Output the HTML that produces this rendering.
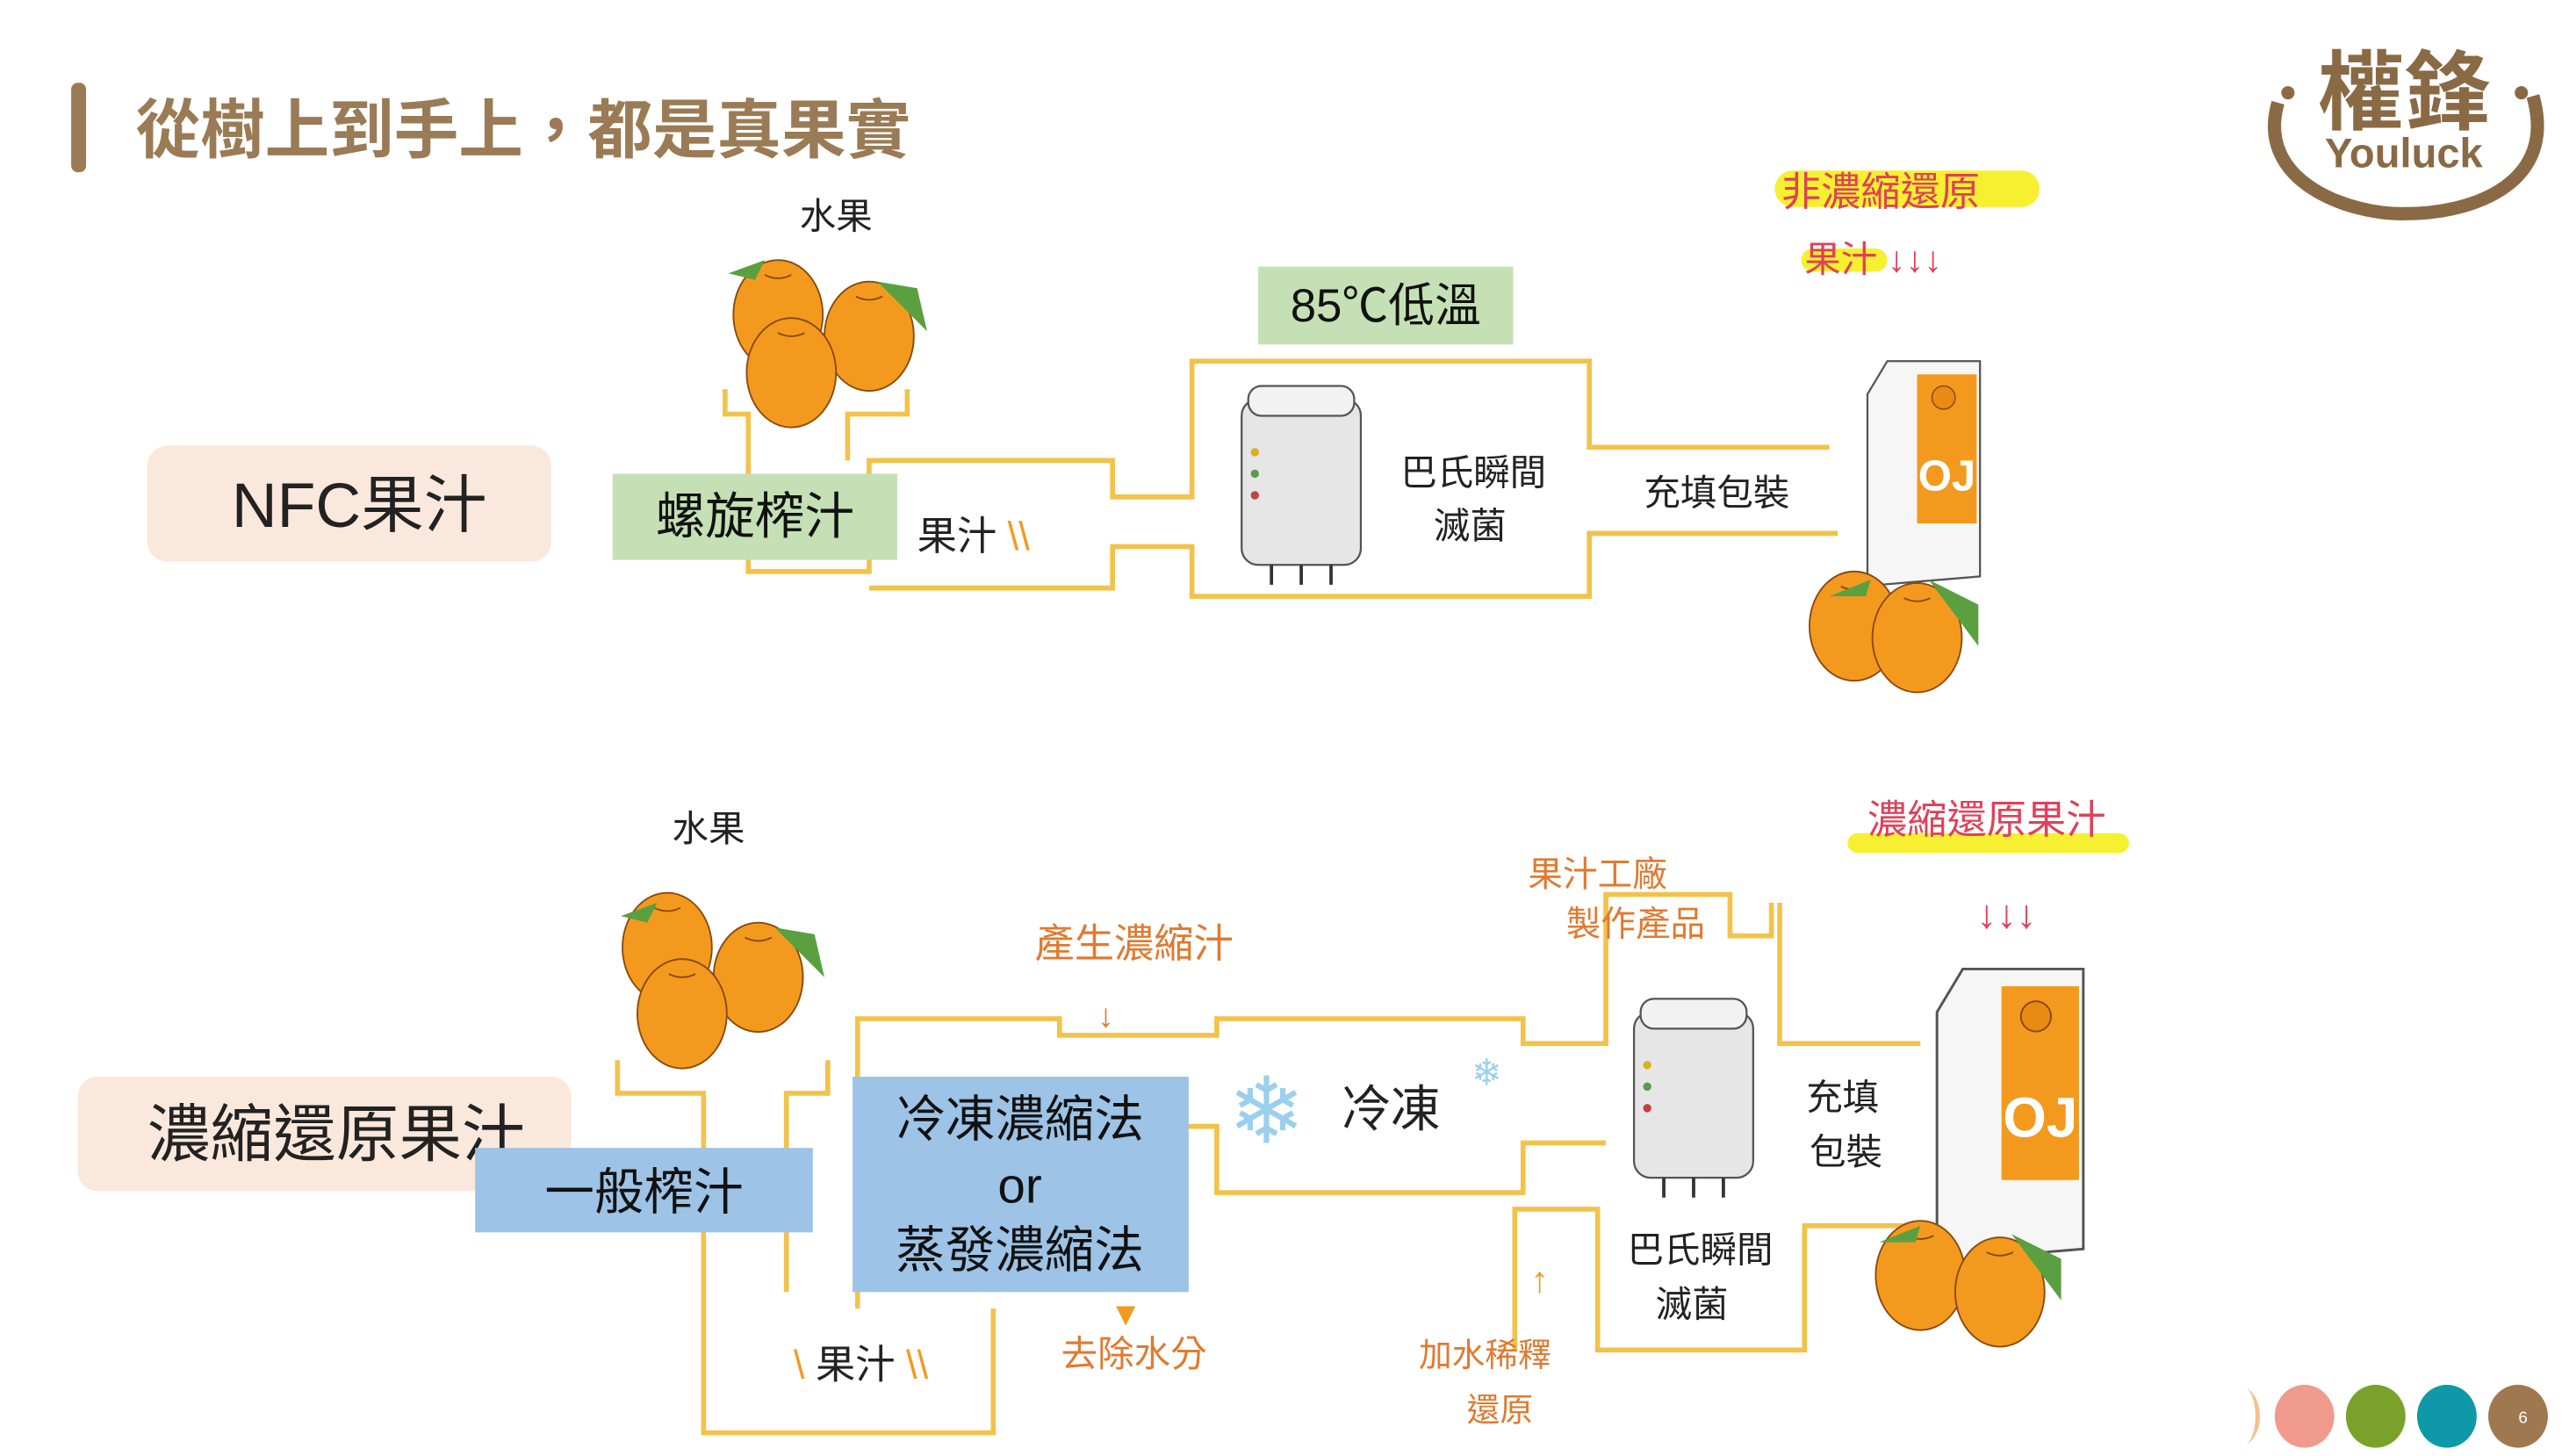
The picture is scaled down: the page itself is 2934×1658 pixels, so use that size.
<!DOCTYPE html>
<html><head><meta charset="utf-8"><style>
html,body{margin:0;padding:0;background:#fff;width:2934px;height:1658px;overflow:hidden}
svg{display:block}
text{font-family:"Liberation Sans","Noto Sans CJK TC",sans-serif}
</style></head><body>
<svg width="2934" height="1658" viewBox="0 0 1556 879" preserveAspectRatio="none" xmlns="http://www.w3.org/2000/svg">
<defs>
<g id="orange"><ellipse rx="27" ry="33" fill="#f39a1e" stroke="#8a4a10" stroke-width="1"/><path d="M-8,-24 q8,4 16,0" stroke="#8a4a10" fill="none"/></g>
<g id="tank"><rect x="0" y="8" width="72" height="100" rx="10" fill="#e6e6e6" stroke="#555" stroke-width="1.2"/><rect x="4" y="0" width="64" height="18" rx="8" fill="#f2f2f2" stroke="#555" stroke-width="1.2"/><circle cx="8" cy="40" r="2.5" fill="#d9b020"/><circle cx="8" cy="53" r="2.5" fill="#5a9a50"/><circle cx="8" cy="66" r="2.5" fill="#c04040"/><path d="M18,108v12M36,108v12M54,108v12" stroke="#333" stroke-width="2"/></g>
<g id="carton"><path d="M0,20 L12,0 L68,0 L68,130 L8,135 L0,130Z" fill="#f6f6f6" stroke="#555" stroke-width="1.2"/><rect x="30" y="8" width="36" height="90" fill="#f39a1e"/><circle cx="46" cy="22" r="7" fill="#e98a12" stroke="#8a4a10" stroke-width="0.8"/><text x="48" y="78" font-size="26" font-weight="bold" fill="#fff" text-anchor="middle">OJ</text></g>
</defs>
<!-- title -->
<rect x="43" y="50" width="9" height="54" rx="4" fill="#9a7b55"/>
<text x="82" y="92" font-size="39" fill="#9a7b55" font-weight="bold">從樹上到手上，都是真果實</text>
<!-- logo -->
<text x="1452" y="74" font-size="52" font-weight="bold" fill="#8a6a45" text-anchor="middle">權鋒</text>
<text x="1452" y="101" font-size="25" font-weight="bold" fill="#8a6a45" text-anchor="middle">Youluck</text>
<path d="M1376,62 C1362,110 1420,130 1453,129 C1495,129 1545,110 1530,58" fill="none" stroke="#8a6a45" stroke-width="8"/>
<circle cx="1382" cy="56" r="4" fill="#8a6a45"/><circle cx="1523" cy="56" r="4" fill="#8a6a45"/>

<!-- TOP pipes -->
<g fill="none" stroke="#f2c24a" stroke-width="3">
<path d="M438,235 V250 H452 V345 H525 V278 H672 V300 H720 V218 H960 V270 H1105"/>
<path d="M548,235 V250 H512 V278"/>
<path d="M525,355 H672 V330 H720 V360 H960 V322 H1110"/>
</g>
<text x="505" y="138" font-size="22" text-anchor="middle" fill="#222">水果</text>
<use href="#orange" x="470" y="190"/><use href="#orange" x="525" y="203"/><use href="#orange" x="478" y="225"/>
<path d="M440,165 l22,-8 l-6,12z M530,170 l30,30 l-6,-26z" fill="#5aa040"/>
<text x="588" y="332" font-size="24" text-anchor="middle" fill="#222">果汁 <tspan fill="#f39a1e">\\</tspan></text>
<use href="#tank" x="750" y="233"/>
<text x="890" y="293" font-size="22" text-anchor="middle" fill="#222">巴氏瞬間</text>
<text x="888" y="325" font-size="22" text-anchor="middle" fill="#222">滅菌</text>
<text x="1037" y="305" font-size="22" text-anchor="middle" fill="#222">充填包裝</text>
<use href="#carton" x="1128" y="218"/>
<use href="#orange" x="1120" y="378"/><use href="#orange" x="1158" y="385"/>
<path d="M1130,350 l-25,10 l22,0z M1165,350 l30,40 l0,-25z" fill="#5aa040"/>
<rect x="1072" y="103" width="160" height="22" rx="11" fill="#f7f030"/>
<rect x="1088" y="150" width="52" height="14" rx="7" fill="#f7f030"/>
<text x="1076" y="124" font-size="24" fill="#e0405a">非濃縮還原</text>
<text x="1090" y="164" font-size="22" fill="#e0405a">果汁 ↓↓↓</text>

<rect x="89" y="269" width="244" height="70" rx="12" fill="#fbe8dc"/>
<text x="217" y="318" font-size="38" text-anchor="middle" fill="#222">NFC果汁</text>
<rect x="370" y="286" width="172" height="52" fill="#c5e0b4"/>
<text x="456" y="322" font-size="30" text-anchor="middle" fill="#111">螺旋榨汁</text>
<rect x="760" y="161" width="154" height="47" fill="#c5e0b4"/>
<text x="837" y="194" font-size="28" text-anchor="middle" fill="#111">85℃低溫</text>

<!-- BOTTOM pipes -->
<g fill="none" stroke="#f2c24a" stroke-width="3">
<path d="M373,640 V660 H425 V865 H600 V790"/>
<path d="M500,640 V660 H475 V780"/>
<path d="M518,790 V615 H640 V625 H735 V615 H920 V630 H970 V540 H1045 V565 H1070 V545"/>
<path d="M1075,545 V630 H1160"/>
<path d="M640,680 H735 V720 H920 V690 H970"/>
<path d="M915,815 V730 H965 V815 H1090 V740 H1160"/>
</g>
<text x="428" y="508" font-size="22" text-anchor="middle" fill="#222">水果</text>
<use href="#orange" x="403" y="572"/><use href="#orange" x="458" y="590"/><use href="#orange" x="412" y="612"/>
<path d="M375,553 l22,-8 l-6,12z M468,560 l30,30 l-6,-26z" fill="#5aa040"/>
<text x="520" y="832" font-size="24" text-anchor="middle" fill="#222"><tspan fill="#f39a1e">\ </tspan>果汁 <tspan fill="#f39a1e">\\</tspan></text>
<text x="685" y="578" font-size="24" text-anchor="middle" fill="#e07a30">產生濃縮汁</text>
<text x="668" y="620" font-size="20" text-anchor="middle" fill="#e07a30">↓</text>
<text x="680" y="800" font-size="20" text-anchor="middle" fill="#f39a1e">▼</text>
<text x="685" y="825" font-size="22" text-anchor="middle" fill="#e07a30">去除水分</text>
<text x="765" y="690" font-size="56" text-anchor="middle" fill="#9ad0ee">❄</text>
<text x="840" y="680" font-size="30" text-anchor="middle" fill="#222">冷凍</text>
<text x="898" y="655" font-size="22" text-anchor="middle" fill="#9ad0ee">❄</text>
<text x="965" y="535" font-size="21" text-anchor="middle" fill="#e07a30">果汁工廠</text>
<text x="988" y="565" font-size="21" text-anchor="middle" fill="#e07a30">製作產品</text>
<use href="#tank" x="987" y="603"/>
<text x="1113" y="670" font-size="22" text-anchor="middle" fill="#222">充填</text>
<text x="1115" y="703" font-size="22" text-anchor="middle" fill="#222">包裝</text>
<text x="1027" y="762" font-size="22" text-anchor="middle" fill="#222">巴氏瞬間</text>
<text x="1022" y="795" font-size="22" text-anchor="middle" fill="#222">滅菌</text>
<text x="930" y="780" font-size="22" text-anchor="middle" fill="#f39a1e">↑</text>
<text x="897" y="825" font-size="20" text-anchor="middle" fill="#e07a30">加水稀釋</text>
<text x="906" y="858" font-size="20" text-anchor="middle" fill="#e07a30">還原</text>
<rect x="1116" y="503" width="170" height="12" rx="6" fill="#f7f030"/>
<text x="1200" y="503" font-size="24" text-anchor="middle" fill="#e0405a">濃縮還原果汁</text>
<text x="1212" y="560" font-size="24" text-anchor="middle" fill="#e0405a">↓↓↓</text>
<g transform="translate(1170,585) scale(1.3)"><use href="#carton"/></g>
<use href="#orange" x="1160" y="770"/><use href="#orange" x="1208" y="780"/>
<path d="M1160,740 l-25,10 l22,0z M1215,745 l30,40 l0,-25z" fill="#5aa040"/>

<rect x="47" y="650" width="298" height="69" rx="12" fill="#fbe8dc"/>
<text x="203" y="698" font-size="38" text-anchor="middle" fill="#222">濃縮還原果汁</text>
<rect x="287" y="693" width="204" height="51" fill="#9dc3e6"/>
<text x="389" y="730" font-size="30" text-anchor="middle" fill="#111">一般榨汁</text>
<rect x="515" y="650" width="203" height="130" fill="#9dc3e6"/>
<text x="616" y="686" font-size="30" text-anchor="middle" fill="#111">冷凍濃縮法</text>
<text x="616" y="726" font-size="30" text-anchor="middle" fill="#111">or</text>
<text x="616" y="765" font-size="30" text-anchor="middle" fill="#111">蒸發濃縮法</text>

<!-- dots -->
<path d="M1357,838 A8,18 0 0 1 1357,872 A12,18 0 0 0 1357,838Z" fill="#f5c08a"/>
<ellipse cx="1392" cy="855" rx="18" ry="19" fill="#f09a8e"/>
<ellipse cx="1435" cy="855" rx="18" ry="19" fill="#7aa22a"/>
<ellipse cx="1478" cy="855" rx="18" ry="19" fill="#0f98a8"/>
<ellipse cx="1521" cy="855" rx="18" ry="19" fill="#a07850"/>
<text x="1524" y="859" font-size="10" text-anchor="middle" fill="#fff">6</text>
</svg>
</body></html>
